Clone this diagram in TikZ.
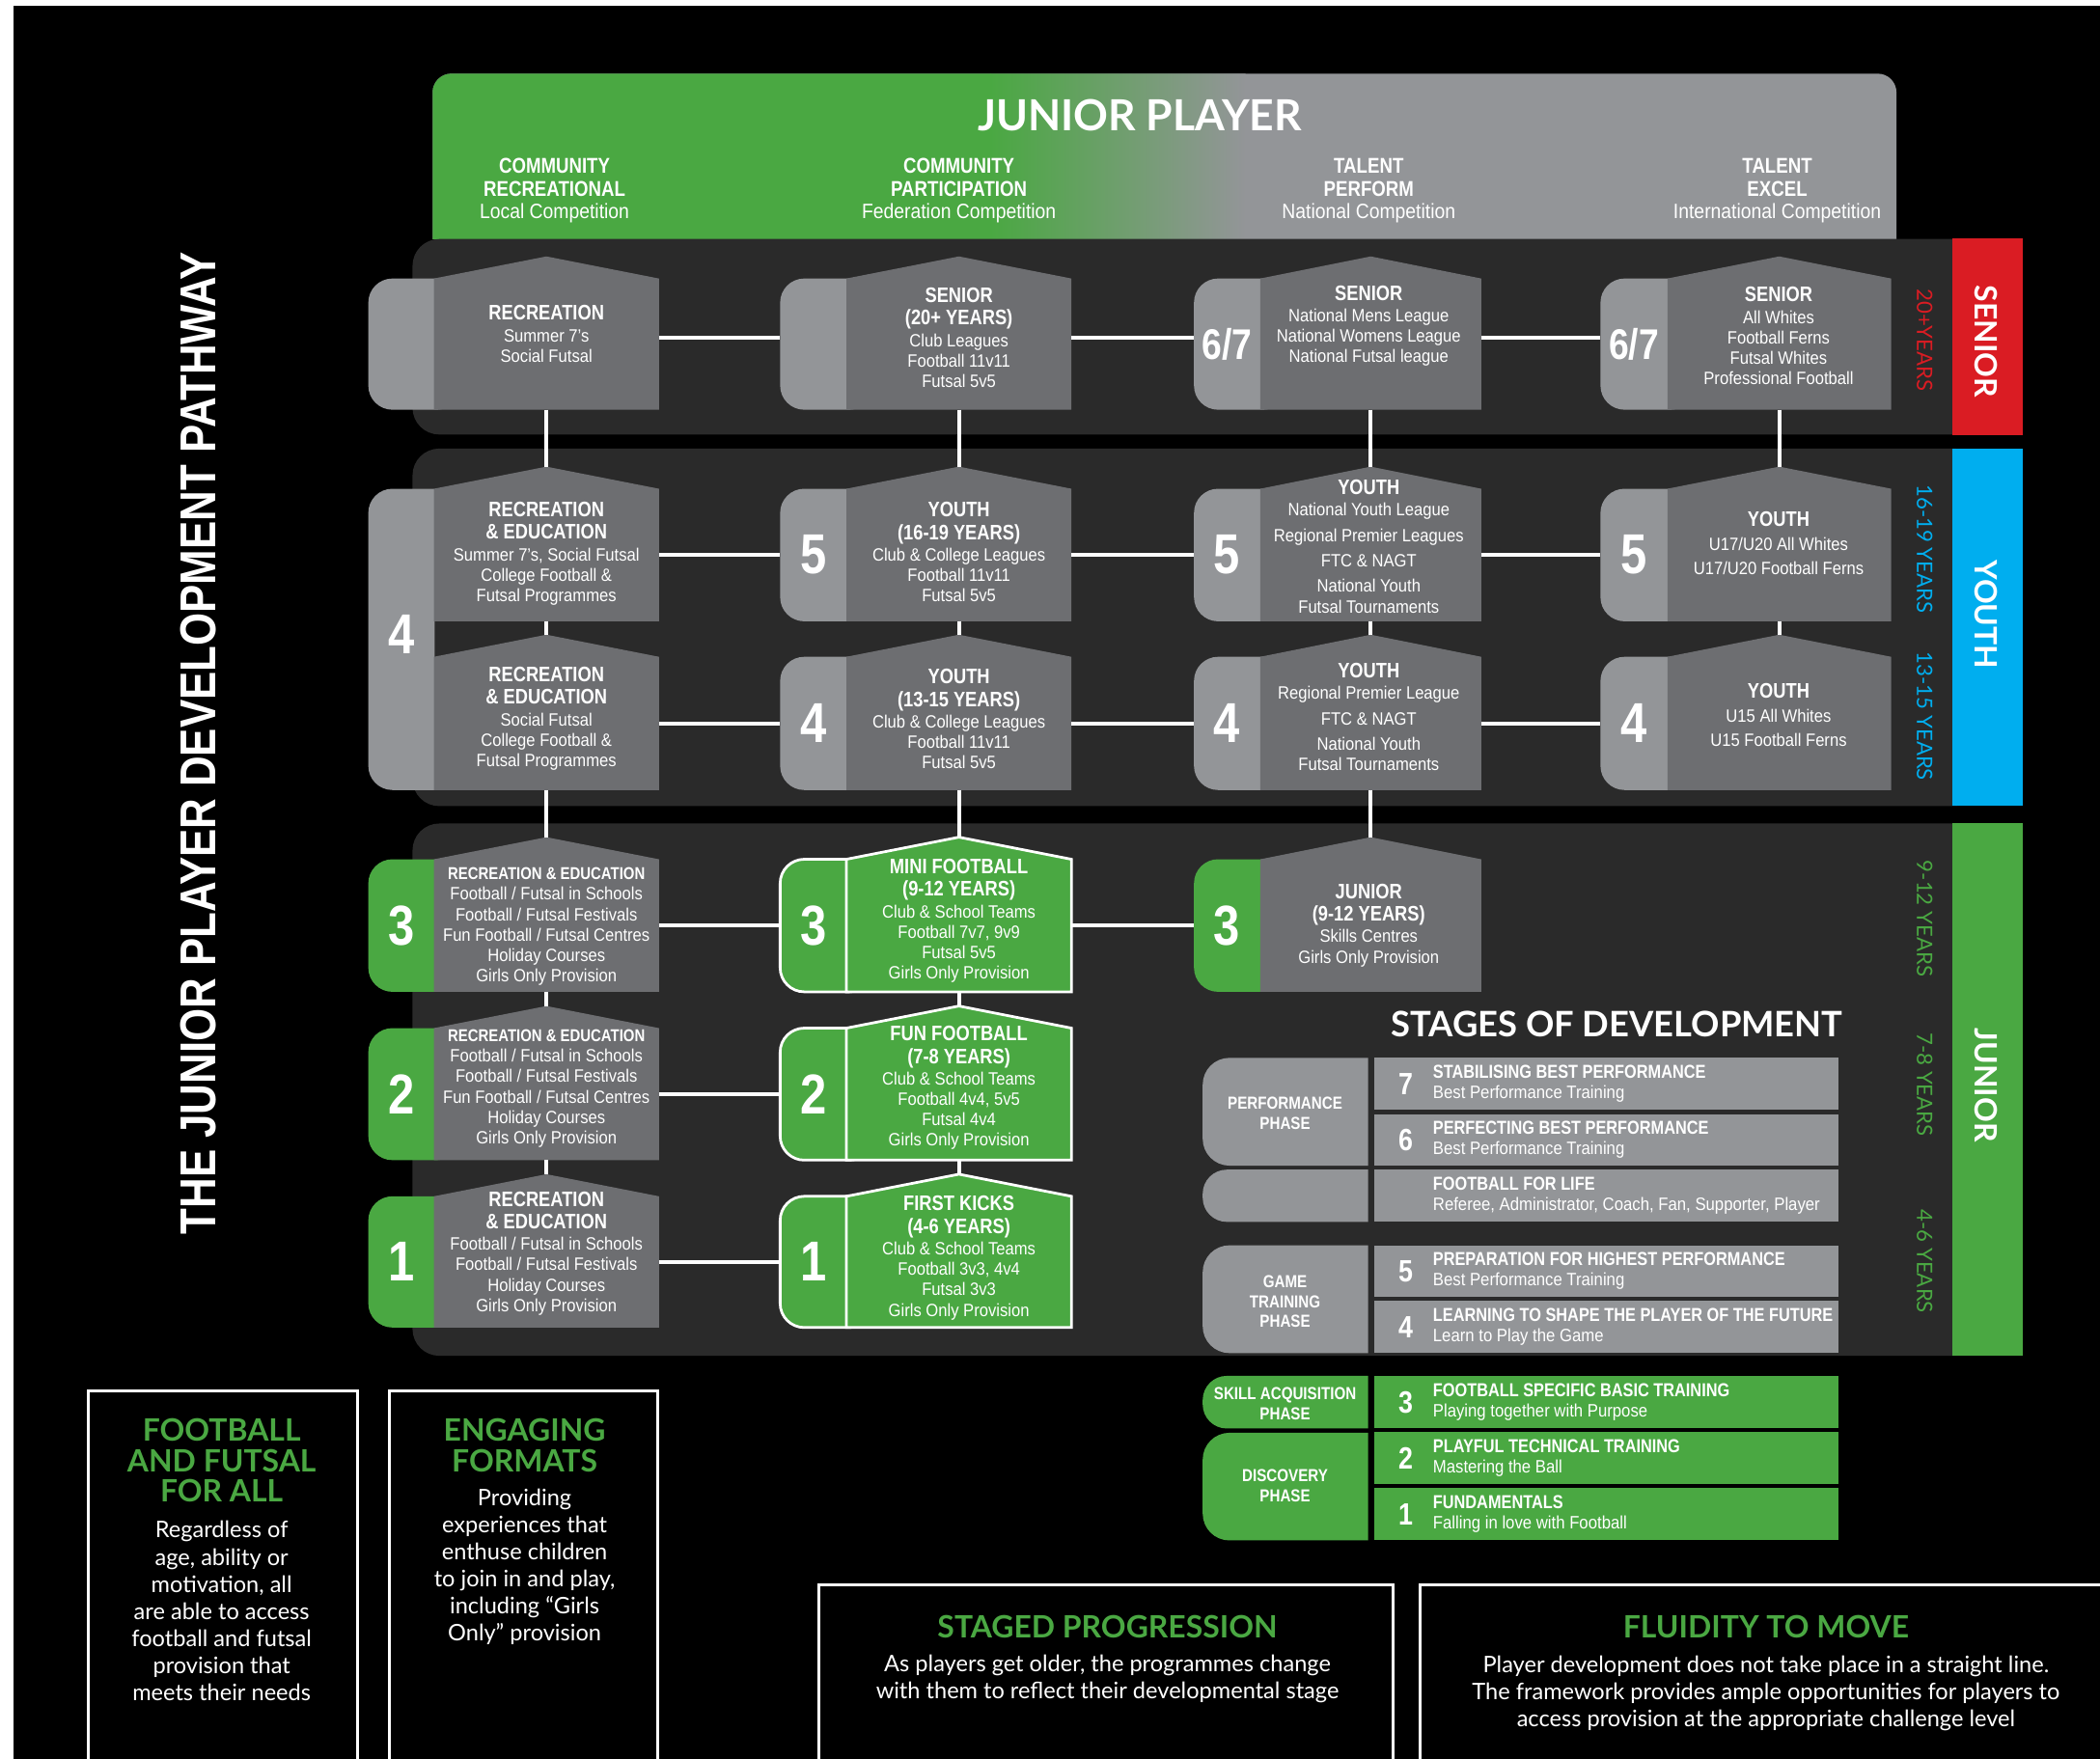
\documentclass[tikz,border=0pt]{standalone}
\usepackage{fontspec}
\setmainfont{Liberation Sans}
\newfontfamily\cnd[FakeStretch=0.9]{Liberation Sans}
\newfontfamily\cndb[FakeStretch=0.84]{Liberation Sans}
\newfontfamily\lato{Lato}
\usetikzlibrary{calc}
\definecolor{jgreen}{HTML}{4AA842}
\definecolor{lgray}{HTML}{939598}
\definecolor{mgray}{HTML}{6D6E71}
\definecolor{panel}{HTML}{2A2A2A}
\definecolor{jred}{HTML}{DA1C23}
\definecolor{jblue}{HTML}{00AEEF}
\newcommand\fsz[2]{\fontsize{#1}{#2}\selectfont}
\newcommand\bt[1]{{\cndb\bfseries\fsz{15.7}{16.8}#1}}
\newcommand\btsm[1]{{\cndb\bfseries\fsz{12.8}{15}#1}}
\newcommand\sbt[1]{{\cndb\bfseries\fsz{14}{15}#1}}
% #1 name, #2 tab x, #3 main x1, #4 main x2, #5 shoulder y, #6 bottom y, #7 main style, #8 tab style
\newcommand\house[8]{%
  \ifx\relax#8\relax\else
    \path[#8,rounded corners=18pt] (#2,#5) rectangle ({#3+20},#6);
  \fi
  \path[#7] (#3,#5) -- ({(#3+#4)/2},{#5-16.5}) -- (#4,#5) -- (#4,#6) -- (#3,#6) -- cycle;
  \node[minimum width={#4-#3}, minimum height={#6-#5}] (#1) at ({(#3+#4)/2},{(#5+#6)/2}) {};
  \coordinate (#1p) at ({(#3+#4)/2},{#5-16.5});
  \node[minimum width={#3-#2}, minimum height={#6-#5}] (#1t) at ({(#2+#3)/2},{(#5+#6)/2}) {};
}
\tikzset{
  conn/.style={draw=white,line width=3pt},
  btxt/.style={text=white,align=center,font=\cnd\fsz{13.3}{15.2}},
  num/.style={text=white,font=\cndb\bfseries\fsz{42}{42}},
  numsm/.style={text=white,font=\cndb\bfseries\fsz{32}{32}},
  mgbox/.style={fill=mgray},
  lgtab/.style={fill=lgray},
  grtab/.style={fill=jgreen},
  grbox/.style={fill=jgreen,draw=white,line width=2pt},
  hdrtxt/.style={text=white,align=center,font=\cnd\fsz{15.5}{17}},
  bandlbl/.style={text=white,rotate=-90,font=\lato\bfseries\fsz{23}{23}},
  agelbl/.style={rotate=-90,font=\lato\fsz{16}{16}},
  srow/.style={minimum width=347pt},
  snum/.style={text=white,font=\cndb\bfseries\fsz{23}{23}},
  stxt/.style={text=white,align=left,font=\cnd\fsz{13.4}{15}},
  ptxt/.style={text=white,align=center,font=\cndb\bfseries\fsz{13}{15}},
  gh/.style={text=jgreen,align=center,font=\lato\bfseries\fsz{23}{23}},
  gb/.style={text=white,align=center,font=\lato\fsz{17}{20.2}},
  outbox/.style={draw=white,line width=2pt}
}
\begin{document}
\begin{tikzpicture}[x=1pt,y=-1pt,every node/.style={inner sep=0pt,outer sep=0pt}]
\useasboundingbox (0,0) rectangle (1568,1313);
\fill[white] (0,0) rectangle (1568,1313);
\fill[black] (10,4) rectangle (1570,1315);

% header
\begin{scope}
  \clip (300,40) rectangle (1430,178.5);
  \clip[rounded corners=14pt] (323,55) rectangle (1416,230);
  \fill[lgray] (300,40) rectangle (1430,180);
  \fill[jgreen] (300,40) rectangle (740,180);
  \shade[left color=jgreen,right color=lgray] (739.5,40) rectangle (930,180);
\end{scope}
\node[text=white,font=\lato\bfseries\fsz{32}{32}] (jp) at (851,86) {JUNIOR PLAYER};
\node[hdrtxt] (h1) at (414,142.5) {\bt{\fsz{16}{17}COMMUNITY}\\\bt{\fsz{16}{17}RECREATIONAL}\\Local Competition};
\node[hdrtxt] (h2) at (716,142.5) {\bt{\fsz{16}{17}COMMUNITY}\\\bt{\fsz{16}{17}PARTICIPATION}\\Federation Competition};
\node[hdrtxt] (h3) at (1022,142.5) {\bt{\fsz{16}{17}TALENT}\\\bt{\fsz{16}{17}PERFORM}\\National Competition};
\node[hdrtxt] (h4) at (1327,142.5) {\bt{\fsz{16}{17}TALENT}\\\bt{\fsz{16}{17}EXCEL}\\International Competition};

% dark panels
\path[fill=panel,rounded corners=20pt] (308,178.5) rectangle (1480,324.5);
\path[fill=panel,rounded corners=20pt] (308,335) rectangle (1480,602);
\path[fill=panel,rounded corners=20pt] (308,615) rectangle (1480,1012.5);

% bands
\fill[jred] (1458,178) rectangle (1510.5,325);
\fill[jblue] (1458,335) rectangle (1510.5,602);
\fill[jgreen] (1458,615) rectangle (1510.5,1012.5);
\node[bandlbl] (lS) at (1483,255) {SENIOR};
\node[bandlbl] (lY) at (1483,459) {YOUTH};
\node[bandlbl] (lJ) at (1483,810.5) {JUNIOR};
\node[agelbl,text=jred] (a1) at (1437,254) {20+YEARS};
\node[agelbl,text=jblue] (a2) at (1437,410) {16-19 YEARS};
\node[agelbl,text=jblue] (a3) at (1437,535) {13-15 YEARS};
\node[agelbl,text=jgreen] (a4) at (1437,686) {9-12 YEARS};
\node[agelbl,text=jgreen] (a5) at (1437,810) {7-8 YEARS};
\node[agelbl,text=jgreen] (a6) at (1437,942) {4-6 YEARS};

% left title
\node[rotate=90,text=white,font=\cndb\bfseries\fsz{37.6}{37.6}] (ttl) at (148,555) {THE JUNIOR PLAYER DEVELOPMENT PATHWAY};

% senior row
\house{S1}{275}{324}{492}{208}{306}{mgbox}{lgtab}
\house{S2}{582.5}{632}{800}{208}{306}{mgbox}{lgtab}
\house{S3}{891.5}{941}{1106}{208}{306}{mgbox}{lgtab}
\house{S4}{1195}{1245}{1412}{208}{306}{mgbox}{lgtab}
% youth rows
\begin{scope}
  \clip (270,355) rectangle (324.5,600);
  \path[lgtab,rounded corners=18pt] (275,365) rectangle (344,590);
\end{scope}
\node[num] (n4big) at (300,474) {4};
\house{Y1}{275}{324}{492}{365}{464}{mgbox}{}
\house{Y2}{582.5}{632}{800}{365}{464}{mgbox}{lgtab}
\house{Y3}{891.5}{941}{1106}{365}{464}{mgbox}{lgtab}
\house{Y4}{1195}{1245}{1412}{365}{464}{mgbox}{lgtab}
\house{Z1}{275}{324}{492}{490.5}{590}{mgbox}{}
\house{Z2}{582.5}{632}{800}{490.5}{590}{mgbox}{lgtab}
\house{Z3}{891.5}{941}{1106}{490.5}{590}{mgbox}{lgtab}
\house{Z4}{1195}{1245}{1412}{490.5}{590}{mgbox}{lgtab}
% junior rows
\house{C1}{275}{324}{492}{641.7}{740.7}{mgbox}{grtab}
\house{C2}{582.5}{632}{800}{641.7}{740.7}{grbox}{grbox}
\house{C3}{891.5}{941}{1106}{641.7}{740.7}{mgbox}{grtab}
\house{B1}{275}{324}{492}{767.8}{866.4}{mgbox}{grtab}
\house{B2}{582.5}{632}{800}{767.8}{866.4}{grbox}{grbox}
\house{A1}{275}{324}{492}{893.4}{991.4}{mgbox}{grtab}
\house{A2}{582.5}{632}{800}{893.4}{991.4}{grbox}{grbox}

% connectors horizontal
\draw[conn] ([yshift=5pt]S1.east) -- ([yshift=5pt]S2t.west);
\draw[conn] ([yshift=5pt]S2.east) -- ([yshift=5pt]S3t.west);
\draw[conn] ([yshift=5pt]S3.east) -- ([yshift=5pt]S4t.west);
\draw[conn] (Y1.east) -- (Y2t.west);
\draw[conn] (Y2.east) -- (Y3t.west);
\draw[conn] (Y3.east) -- (Y4t.west);
\draw[conn] (Z1.east) -- (Z2t.west);
\draw[conn] (Z2.east) -- (Z3t.west);
\draw[conn] (Z3.east) -- (Z4t.west);
\draw[conn] (C1.east) -- (C2t.west);
\draw[conn] (C2.east) -- (C3t.west);
\draw[conn] (B1.east) -- (B2t.west);
\draw[conn] (A1.east) -- (A2t.west);
% connectors vertical
\draw[conn] (S1.south) -- (Y1p);
\draw[conn] (Y1.south) -- (Z1p);
\draw[conn] (Z1.south) -- (C1p);
\draw[conn] (C1.south) -- (B1p);
\draw[conn] (B1.south) -- (A1p);
\draw[conn] (S2.south) -- (Y2p);
\draw[conn] (Y2.south) -- (Z2p);
\draw[conn] (Z2.south) -- (C2p);
\draw[conn] (C2.south) -- (B2p);
\draw[conn] (B2.south) -- (A2p);
\draw[conn] (S3.south) -- (Y3p);
\draw[conn] (Y3.south) -- (Z3p);
\draw[conn] (Z3.south) -- (C3p);
\draw[conn] (S4.south) -- (Y4p);
\draw[conn] (Y4.south) -- (Z4p);

% tab numbers
\node[numsm] (nS3) at (S3t) {6/7};
\node[numsm] (nS4) at (S4t) {6/7};
\node[num] (nY2) at (Y2t) {5};
\node[num] (nY3) at (Y3t) {5};
\node[num] (nY4) at (Y4t) {5};
\node[num] (nZ2) at (Z2t) {4};
\node[num] (nZ3) at (Z3t) {4};
\node[num] (nZ4) at (Z4t) {4};
\node[num] (nC1) at (C1t) {3};
\node[num] (nC2) at (C2t) {3};
\node[num] (nC3) at (C3t) {3};
\node[num] (nB1) at (B1t) {2};
\node[num] (nB2) at (B2t) {2};
\node[num] (nA1) at (A1t) {1};
\node[num] (nA2) at (A2t) {1};

% box texts
\node[btxt] (S1x) at (408,249.5) {\bt{RECREATION}\\[1pt]Summer 7’s\\Social Futsal};
\node[btxt] (S2x) at (716,252) {\bt{SENIOR}\\[1.6pt]\bt{(20+ YEARS)}\\[1pt]Club Leagues\\Football 11v11\\Futsal 5v5};
\node[btxt] (S3x) at (1022,243.5) {\bt{SENIOR}\\[1pt]National Mens League\\National Womens League\\National Futsal league};
\node[btxt] (S4x) at (1328,251) {\bt{SENIOR}\\[1pt]All Whites\\Football Ferns\\Futsal Whites\\Professional Football};
\node[btxt] (Y1x) at (408,413.5) {\bt{RECREATION}\\[1.6pt]\bt{\& EDUCATION}\\[1pt]Summer 7’s, Social Futsal\\College Football \&\\Futsal Programmes};
\node[btxt] (Y2x) at (716,412.5) {\bt{YOUTH}\\[1.6pt]\bt{(16-19 YEARS)}\\[1pt]Club \& College Leagues\\Football 11v11\\Futsal 5v5};
\node[btxt] (Y3x) at (1022,408) {\bt{YOUTH}\\[1pt]National Youth League\\[3.8pt]Regional Premier Leagues\\[3.8pt]FTC \& NAGT\\[3.8pt]National Youth\\Futsal Tournaments};
\node[btxt] (Y4x) at (1328,406) {\bt{YOUTH}\\[2.8pt]U17/U20 All Whites\\[2.8pt]U17/U20 Football Ferns};
\node[btxt] (Z1x) at (408,536.5) {\bt{RECREATION}\\[1.6pt]\bt{\& EDUCATION}\\[1pt]Social Futsal\\College Football \&\\Futsal Programmes};
\node[btxt] (Z2x) at (716,537) {\bt{YOUTH}\\[1.6pt]\bt{(13-15 YEARS)}\\[1pt]Club \& College Leagues\\Football 11v11\\Futsal 5v5};
\node[btxt] (Z3x) at (1022,535.5) {\bt{YOUTH}\\[1pt]Regional Premier League\\[3.8pt]FTC \& NAGT\\[3.8pt]National Youth\\Futsal Tournaments};
\node[btxt] (Z4x) at (1328,534) {\bt{YOUTH}\\[2.8pt]U15 All Whites\\[2.8pt]U15 Football Ferns};
\node[btxt] (C1x) at (408,692) {\btsm{RECREATION \& EDUCATION}\\Football / Futsal in Schools\\Football / Futsal Festivals\\Fun Football / Futsal Centres\\Holiday Courses\\Girls Only Provision};
\node[btxt] (C2x) at (716,687.5) {\bt{MINI FOOTBALL}\\[1.6pt]\bt{(9-12 YEARS)}\\[1pt]Club \& School Teams\\Football 7v7, 9v9\\Futsal 5v5\\Girls Only Provision};
\node[btxt] (C3x) at (1022,691) {\bt{JUNIOR}\\[1.6pt]\bt{(9-12 YEARS)}\\[1pt]Skills Centres\\Girls Only Provision};
\node[btxt] (B1x) at (408,813) {\btsm{RECREATION \& EDUCATION}\\Football / Futsal in Schools\\Football / Futsal Festivals\\Fun Football / Futsal Centres\\Holiday Courses\\Girls Only Provision};
\node[btxt] (B2x) at (716,812.5) {\bt{FUN FOOTBALL}\\[1.6pt]\bt{(7-8 YEARS)}\\[1pt]Club \& School Teams\\Football 4v4, 5v5\\Futsal 4v4\\Girls Only Provision};
\node[btxt] (A1x) at (408,936) {\bt{RECREATION}\\[1.6pt]\bt{\& EDUCATION}\\[1pt]Football / Futsal in Schools\\Football / Futsal Festivals\\Holiday Courses\\Girls Only Provision};
\node[btxt] (A2x) at (716,939.5) {\bt{FIRST KICKS}\\[1.6pt]\bt{(4-6 YEARS)}\\[1pt]Club \& School Teams\\Football 3v3, 4v4\\Futsal 3v3\\Girls Only Provision};

% stages of development
\node[anchor=east,text=white,font=\lato\bfseries\fsz{26.2}{26.2}] (sod) at (1376,765) {STAGES OF DEVELOPMENT};
\begin{scope}
  \clip (890,780) rectangle (1021.5,1160);
  \path[fill=lgray,rounded corners=20pt] (898,790) rectangle (1060,870.5);
  \path[fill=lgray,rounded corners=18pt] (898,873.5) rectangle (1060,912.5);
  \path[fill=lgray,rounded corners=20pt] (898,930) rectangle (1060,1010.5);
  \path[fill=jgreen,rounded corners=18pt] (898,1027.5) rectangle (1060,1066.8);
  \path[fill=jgreen,rounded corners=20pt] (898,1070) rectangle (1060,1150.4);
\end{scope}
\node[ptxt] (p1) at (959.5,831.5) {PERFORMANCE\\PHASE};
\node[ptxt] (p2) at (959.5,972) {GAME\\TRAINING\\PHASE};
\node[ptxt] (p3) at (959.5,1048.5) {SKILL ACQUISITION\\PHASE};
\node[ptxt] (p4) at (959.5,1109.5) {DISCOVERY\\PHASE};

\node[srow,fill=lgray,minimum height=39pt] (r7) at (1199.5,809.5) {};
\node[srow,fill=lgray,minimum height=38.5pt] (r6) at (1199.5,851.25) {};
\node[srow,fill=lgray,minimum height=39pt] (rF) at (1199.5,893) {};
\node[srow,fill=lgray,minimum height=38.5pt] (r5) at (1199.5,949.25) {};
\node[srow,fill=lgray,minimum height=39pt] (r4) at (1199.5,991) {};
\node[srow,fill=jgreen,minimum height=39.3pt] (r3) at (1199.5,1047.15) {};
\node[srow,fill=jgreen,minimum height=39.1pt] (r2) at (1199.5,1089.05) {};
\node[srow,fill=jgreen,minimum height=39.4pt] (r1) at (1199.5,1130.7) {};

\node[snum] (s7) at ([xshift=23.6pt]r7.west) {7};
\node[snum] (s6) at ([xshift=23.6pt]r6.west) {6};
\node[snum] (s5) at ([xshift=23.6pt]r5.west) {5};
\node[snum] (s4) at ([xshift=23.6pt]r4.west) {4};
\node[snum] (s3) at ([xshift=23.6pt]r3.west) {3};
\node[snum] (s2) at ([xshift=23.6pt]r2.west) {2};
\node[snum] (s1) at ([xshift=23.6pt]r1.west) {1};
\node[stxt,anchor=west] (t7) at ([xshift=44pt]r7.west) {\sbt{STABILISING BEST PERFORMANCE}\\Best Performance Training};
\node[stxt,anchor=west] (t6) at ([xshift=44pt]r6.west) {\sbt{PERFECTING BEST PERFORMANCE}\\Best Performance Training};
\node[stxt,anchor=west] (tF) at ([xshift=44pt]rF.west) {\sbt{FOOTBALL FOR LIFE}\\Referee, Administrator, Coach, Fan, Supporter, Player};
\node[stxt,anchor=west] (t5) at ([xshift=44pt]r5.west) {\sbt{PREPARATION FOR HIGHEST PERFORMANCE}\\Best Performance Training};
\node[stxt,anchor=west] (t4) at ([xshift=44pt]r4.west) {\sbt{LEARNING TO SHAPE THE PLAYER OF THE FUTURE}\\Learn to Play the Game};
\node[stxt,anchor=west] (t3) at ([xshift=44pt]r3.west) {\sbt{FOOTBALL SPECIFIC BASIC TRAINING}\\Playing together with Purpose};
\node[stxt,anchor=west] (t2) at ([xshift=44pt]r2.west) {\sbt{PLAYFUL TECHNICAL TRAINING}\\Mastering the Ball};
\node[stxt,anchor=west] (t1) at ([xshift=44pt]r1.west) {\sbt{FUNDAMENTALS}\\Falling in love with Football};

% bottom boxes
\draw[outbox] (66,1038.5) rectangle (267,1330);
\draw[outbox] (291,1038.5) rectangle (491,1330);
\draw[outbox] (611.5,1183.3) rectangle (1040,1330);
\draw[outbox] (1060.5,1183.3) rectangle (1600,1330);
\node[gh] (f1h) at (165.5,1090.6) {FOOTBALL\\AND FUTSAL\\FOR ALL};
\node[gb] (f1b) at (165.5,1203) {Regardless of\\age, ability or\\motivation, all\\are able to access\\football and futsal\\provision that\\meets their needs};
\node[gh] (f2h) at (391.7,1079.3) {ENGAGING\\FORMATS};
\node[gb] (f2b) at (391.7,1170.2) {Providing\\experiences that\\enthuse children\\to join in and play,\\including “Girls\\Only” provision};
\node[gh] (f3h) at (826.9,1214.8) {STAGED PROGRESSION};
\node[gb] (f3b) at (826.9,1253.9) {As players get older, the programmes change\\with them to reflect their developmental stage};
\node[gh] (f4h) at (1318.6,1214.8) {FLUIDITY TO MOVE};
\node[gb] (f4b) at (1318.6,1264.5) {Player development does not take place in a straight line.\\The framework provides ample opportunities for players to\\access provision at the appropriate challenge level};
\end{tikzpicture}
\end{document}
